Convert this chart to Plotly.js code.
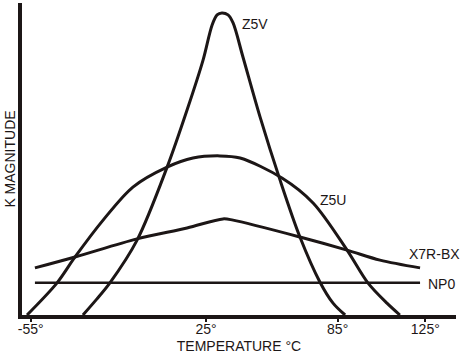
<!DOCTYPE html>
<html>
<head>
<meta charset="utf-8">
<script src="https://cdn.plot.ly/plotly-3.0.1.min.js"></script>
<style>html,body{margin:0;padding:0;background:#fff;}#chart{width:470px;height:359px;}</style>
</head>
<body>
<div id="chart"></div>
<script>
// Temperature (°C) and relative K magnitude (0-100, schematic)
var z5vT = [-31.2, -25.0, -18.9, -6.5, 7.2, 16.3, 23.6, 27.7, 30.0, 32.2, 35.0, 37.3, 41.8, 49.6, 58.7, 67.8, 76.9, 82.9, 88.4];
var z5vK = [0, 5.0, 10.3, 24.0, 47.4, 65.7, 81.7, 92.9, 96.2, 96.8, 96.2, 93.6, 82.7, 63.5, 43.3, 25.0, 10.6, 3.8, 0];

var z5uT = [-56.7, -43.0, -34.8, -22.0, -8.4, 7.2, 19.0, 31.3, 40.5, 59.6, 73.8, 89.3, 98.8, 107.5, 113.4];
var z5uK = [0, 10.3, 18.6, 30.4, 41.0, 47.4, 50.3, 51.0, 50.3, 43.9, 35.9, 20.8, 10.3, 3.8, 0];

var x7rT = [-53.1, -34.8, -6.5, 16.3, 32.7, 37.3, 67.8, 89.3, 104.3, 122.6];
var x7rK = [15.1, 18.6, 24.4, 27.9, 30.8, 30.4, 25.0, 20.8, 17.6, 15.1];

var np0T = [-53.1, 122.6];
var np0K = [10.3, 10.3];

var tickVals = [-55, 25, 85, 125];
var tickText = ['-55°', '25°', '85°', '125°'];

var labelText = ['Z5V', 'Z5U', 'X7R-BX', 'NP0'];
var labelT = [47.3, 82.9, 116.5, 125.5];
var labelK = [93.3, 36.9, 19.6, 9.9];
var labelAnchor = ['center', 'center', 'left', 'left'];

var ink = '#1c1616';
var font = {family: 'Liberation Sans, Arial, sans-serif', size: 14, color: ink};

function curve(x, y, w) {
  return {x: x, y: y, type: 'scatter', mode: 'lines',
    line: {color: ink, width: w, shape: 'spline', smoothing: 0.9}, hoverinfo: 'skip'};
}

var data = [
  curve(z5vT, z5vK, 3),
  curve(z5uT, z5uK, 3),
  curve(x7rT, x7rK, 3),
  {x: np0T, y: np0K, type: 'scatter', mode: 'lines', line: {color: ink, width: 2.5}, hoverinfo: 'skip'}
];

var annotations = labelText.map(function (t, i) {
  return {x: labelT[i], y: labelK[i], xref: 'x', yref: 'y', text: t, showarrow: false,
    xanchor: labelAnchor[i], yanchor: 'middle', font: font};
});

var layout = {
  width: 470, height: 359,
  margin: {l: 22, r: 14, t: 3, b: 44},
  paper_bgcolor: '#fff', plot_bgcolor: '#fff',
  showlegend: false,
  font: font,
  xaxis: {
    range: [-59, 139], showgrid: false, zeroline: false,
    showline: true, linecolor: ink, linewidth: 4,
    ticks: 'outside', ticklen: 3, tickwidth: 2, tickcolor: ink,
    ticklabelstandoff: -5,
    tickvals: tickVals, ticktext: tickText, tickfont: font,
    title: {text: 'TEMPERATURE °C', font: font, standoff: 6},
    fixedrange: true
  },
  yaxis: {
    range: [0, 100], showgrid: false, zeroline: false,
    showline: true, linecolor: ink, linewidth: 4,
    showticklabels: false, ticks: '',
    title: {text: 'K MAGNITUDE', font: font, standoff: 0},
    fixedrange: true
  },
  annotations: annotations
};

Plotly.newPlot('chart', data, layout, {displayModeBar: false, staticPlot: true});
</script>
</body>
</html>
